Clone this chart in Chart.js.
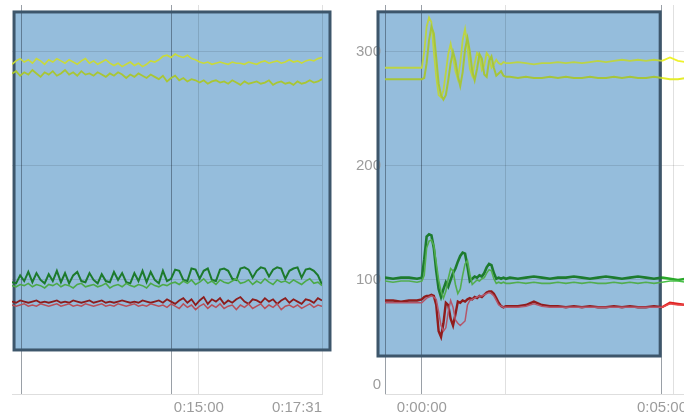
<!DOCTYPE html>
<html>
<head>
<meta charset="utf-8">
<script src="https://cdn.jsdelivr.net/npm/chart.js@4.4.0/dist/chart.umd.min.js"></script>
<style>
  html, body { margin: 0; padding: 0; width: 684px; height: 416px; overflow: hidden; background: #fff; }
  canvas { position: absolute; top: 0; }
  #left-chart { left: 0; }
  #right-chart { left: 340px; }
</style>
</head>
<body>
<canvas id="left-chart" width="340" height="416"></canvas>
<canvas id="right-chart" width="380" height="416"></canvas>
<script>
'use strict';

// ---- left panel (seconds) ----
let leftTimes = [671,676,681,686,691,696,701,706,711,716,721,726,731,736,741,746,751,756,761,766,
  771,776,781,786,791,796,801,806,811,816,821,826,831,836,841,846,851,856,861,866,
  871,876,881,886,891,896,901,906,911,916,921,926,931,936,941,946,951,956,961,966,
  971,976,981,986,991,996,1001,1006,1011,1016,1021,1026,1031,1036,1041,1046,1051];

let leftYellowUp = [289,292,294,291,293,290,294,292,289,293,291,294,292,290,293,291,289,292,294,290,
  292,289,291,293,290,288,290,287,289,291,288,290,287,289,292,291,293,296,297,295,
  298,296,295,297,294,293,291,290,291,289,290,291,290,289,291,290,290,289,291,290,
  289,291,292,290,291,292,290,291,293,291,292,290,292,293,292,294,295];
let leftYellowLow = [281,283,279,282,280,284,281,278,282,280,283,279,281,284,280,282,279,283,280,281,
  279,282,280,278,281,279,282,280,277,280,278,281,279,277,280,278,276,279,274,277,
  279,275,277,274,276,275,273,275,272,274,275,273,274,272,275,273,271,274,272,273,
  274,272,273,275,271,273,274,272,273,271,274,272,273,275,273,274,276];
let leftGreenDark = [98,97,104,99,107,98,106,100,97,105,99,108,98,106,97,104,107,99,98,106,
  100,97,105,99,98,107,100,106,98,97,106,99,108,98,107,100,97,108,99,101,
  109,108,100,99,110,109,101,108,110,100,99,109,110,108,101,100,110,111,109,102,
  108,111,110,103,109,111,110,101,108,110,111,102,109,110,108,104,96];
let leftGreenLight = [95,94,96,95,97,94,96,95,93,96,95,97,94,96,95,93,96,97,94,95,
  96,94,95,97,93,95,96,94,97,95,94,96,95,93,97,95,94,96,95,97,
  98,96,99,97,100,96,98,101,97,99,96,100,98,97,99,101,97,98,100,96,
  99,97,101,98,96,100,98,99,97,100,98,96,99,101,97,98,95];
let leftRedDark = [81,80,82,81,80,81,82,80,81,80,81,82,80,81,80,82,81,80,81,82,
  80,81,82,80,81,80,81,82,81,80,81,80,82,81,80,81,82,80,83,81,
  79,82,84,80,83,78,82,85,79,83,81,84,79,82,80,83,85,81,79,83,
  82,80,84,81,83,79,82,84,80,83,81,79,83,82,80,84,82];
let leftRedLight = [78,77,78,79,77,78,77,79,78,77,78,79,77,78,79,77,78,77,79,78,
  77,78,79,77,78,77,79,78,77,78,79,77,78,77,79,78,77,78,76,79,
  77,75,79,76,78,74,77,79,75,78,76,79,75,77,78,74,78,76,79,75,
  77,79,75,78,76,79,74,77,78,76,78,75,77,79,76,78,77];

let leftTicks = [683, 866, 900, 1051];
let leftLabelled = [900, 1051];
let leftDark = [683, 866];

// ---- right panel (seconds from event) ----
let rightTimes = [-46,-36,-26,-16,-6,
  0,3,6,9,12,15,18,21,24,27,30,33,36,39,42,45,48,51,54,57,60,63,66,69,72,75,78,81,84,87,90,93,96,99,102,105,
  110,120,130,140,150,160,170,180,190,200,210,220,230,240,250,260,270,280,290,300,310,320,330,340,350,360];

let rightYellowUp = [286,286,286,286,286,
  286,300,322,330,326,300,278,262,260,266,282,298,307,296,283,276,290,310,320,305,285,279,290,299,296,284,288,299,296,286,289,293,290,289,291,290,
  290,291,290,289,290,290,291,290,291,290,291,292,291,292,293,292,293,292,293,292,295,292,291,291,292,291];
let rightYellowLow = [276,276,276,276,276,
  276,277,290,310,322,316,295,272,262,258,262,275,290,300,292,279,270,282,302,312,300,283,275,285,298,294,280,278,292,296,286,279,281,283,279,278,
  278,277,278,277,277,278,277,278,277,277,278,277,277,278,277,278,277,277,278,277,276,276,277,276,276,276];
let rightGreenDark = [102,101,102,102,101,
  102,118,138,140,139,128,108,92,85,92,98,94,100,106,110,116,121,124,123,112,99,101,103,102,104,103,106,111,114,113,106,101,102,101,102,101,
  102,101,102,103,102,101,102,102,103,102,101,102,103,102,101,102,103,102,101,102,101,100,101,100,101,100];
let rightGreenLight = [99,98,99,99,98,
  99,104,128,134,135,130,115,100,90,84,90,101,110,108,96,88,92,104,114,117,105,96,98,100,99,101,102,106,109,108,101,97,98,97,98,97,
  97,98,97,98,97,97,98,97,98,97,98,97,97,98,97,98,97,98,97,98,99,99,98,99,98,99];
let rightRedDark = [82,82,81,82,82,
  83,85,86,86,87,86,78,55,50,62,80,78,66,60,70,81,80,82,81,83,84,83,85,84,86,85,87,89,90,90,88,84,80,77,76,77,
  77,77,78,81,78,77,77,76,77,76,77,76,76,77,76,77,76,76,77,76,80,79,78,78,78,78];
let rightRedLight = [80,80,80,80,80,
  80,82,84,85,86,85,83,72,60,55,58,72,82,76,65,62,60,62,64,78,82,83,84,85,86,86,87,88,89,88,86,82,78,77,76,76,
  76,76,77,79,77,76,76,76,76,76,76,76,76,76,76,76,76,76,76,76,79,78,78,78,77,78];

let rightTicks = [-46, 0, 104, 300, 315];
let rightLabelled = [0, 300];
let rightDark = [-46, 0, 300];

let yTicks = [0, 100, 200, 300];

// ---- helpers ----
function fmtTime(s) {
  let h = Math.floor(s / 3600);
  let m = Math.floor((s % 3600) / 60);
  let sec = s % 60;
  return h + ':' + String(m).padStart(2, '0') + ':' + String(sec).padStart(2, '0');
}

let labelFont = { family: 'Liberation Sans', size: 15 };
let labelColor = '#9c9c9c';

// shaded panel drawn behind the traces
let boxPlugin = {
  id: 'panelBox',
  beforeDraw(chart, args, opts) {
    let ctx = chart.ctx;
    let xs = chart.scales.x, ys = chart.scales.y;
    let x1 = xs.getPixelForValue(opts.x1), x2 = xs.getPixelForValue(opts.x2);
    let y1 = ys.getPixelForValue(opts.y1), y2 = ys.getPixelForValue(opts.y2);
    ctx.save();
    ctx.fillStyle = '#95bddc';
    ctx.fillRect(x1, y2, x2 - x1, y1 - y2);
    ctx.restore();
  },
  beforeDatasetsDraw(chart, args, opts) {
    let ctx = chart.ctx;
    let xs = chart.scales.x, ys = chart.scales.y;
    let x1 = xs.getPixelForValue(opts.x1), x2 = xs.getPixelForValue(opts.x2);
    let y1 = ys.getPixelForValue(opts.y1), y2 = ys.getPixelForValue(opts.y2);
    ctx.save();
    ctx.strokeStyle = '#3d566b';
    ctx.lineWidth = 3;
    ctx.strokeRect(x1, y2, x2 - x1, y1 - y2);
    ctx.restore();
  }
};

function line(values, color, width, brightColor, brightFrom) {
  let ds = {
    data: values,
    borderColor: color,
    borderWidth: width,
    pointRadius: 0,
    fill: false
  };
  if (brightColor) {
    ds.segment = { borderColor: ctx => ctx.p0.parsed.x >= brightFrom ? brightColor : undefined };
  }
  return ds;
}

function makeOptions(times, ticks, labelled, dark, minX, maxX, yWidth, showY, padRight, box) {
  return {
    responsive: false,
    animation: false,
    layout: { padding: { top: 5, right: padRight, left: 0, bottom: 0 } },
    plugins: {
      legend: { display: false },
      tooltip: { enabled: false },
      panelBox: box
    },
    scales: {
      x: {
        type: 'linear',
        min: minX,
        max: maxX,
        afterBuildTicks(scale) { scale.ticks = ticks.map(v => ({ value: v })); },
        afterFit(scale) { scale.height = 22; scale.paddingLeft = 0; scale.paddingRight = 0; },
        ticks: {
          autoSkip: false,
          maxRotation: 0,
          minRotation: 0,
          align: 'inner',
          padding: 5,
          color: labelColor,
          font: labelFont,
          callback: v => labelled.includes(v) ? fmtTime(v) : ''
        },
        grid: {
          drawTicks: false,
          color: ctx => (ctx.tick && dark.includes(ctx.tick.value)) ? 'rgba(30,45,60,0.45)' : 'rgba(0,0,0,0.12)'
        },
        border: { color: '#dedede' }
      },
      y: {
        min: 0,
        max: 341,
        afterBuildTicks(scale) { scale.ticks = yTicks.map(v => ({ value: v })); },
        afterFit(scale) { scale.width = yWidth; scale.paddingTop = 0; scale.paddingBottom = 0; },
        ticks: {
          display: showY,
          padding: 4,
          color: labelColor,
          font: labelFont,
          callback: v => v === 0 ? ['0', ''] : String(v)
        },
        grid: { drawTicks: false, color: 'rgba(0,0,0,0.1)' },
        border: { display: false }
      }
    }
  };
}

let leftChart = new Chart(document.getElementById('left-chart'), { //eslint-disable-line
  type: 'line',
  data: {
    labels: leftTimes,
    datasets: [
      line(leftYellowLow, '#a9c634', 1.8),
      line(leftYellowUp, '#c9da3a', 1.6),
      line(leftGreenLight, '#4caa48', 1.6),
      line(leftGreenDark, '#1c7a2c', 2),
      line(leftRedLight, '#b8505a', 1.5),
      line(leftRedDark, '#8c1c1c', 1.8)
    ]
  },
  options: makeOptions(leftTimes, leftTicks, leftLabelled, leftDark, 671, 1051, 12, false, 18,
    { x1: 673.5, x2: 1060.8, y1: 38.6, y2: 334.9 }),
  plugins: [boxPlugin]
});

let boxRight = 297.75;
let rightChart = new Chart(document.getElementById('right-chart'), { //eslint-disable-line
  type: 'line',
  data: {
    labels: rightTimes,
    datasets: [
      line(rightYellowLow, '#a6c53a', 2, '#e4ec2a', boxRight),
      line(rightYellowUp, '#bcd444', 1.8, '#eef22c', boxRight),
      line(rightGreenLight, '#52ad4e', 1.6, '#48c048', boxRight),
      line(rightGreenDark, '#1d7b2e', 2.6, '#2aa82a', boxRight),
      line(rightRedLight, '#b4566a', 1.5, '#e84848', boxRight),
      line(rightRedDark, '#901c1c', 2.4, '#e02222', boxRight)
    ]
  },
  options: makeOptions(rightTimes, rightTicks, rightLabelled, rightDark, -46, 360, 45, true, 10,
    { x1: -54.75, x2: boxRight, y1: 33.3, y2: 335 }),
  plugins: [boxPlugin]
});
</script>
</body>
</html>
